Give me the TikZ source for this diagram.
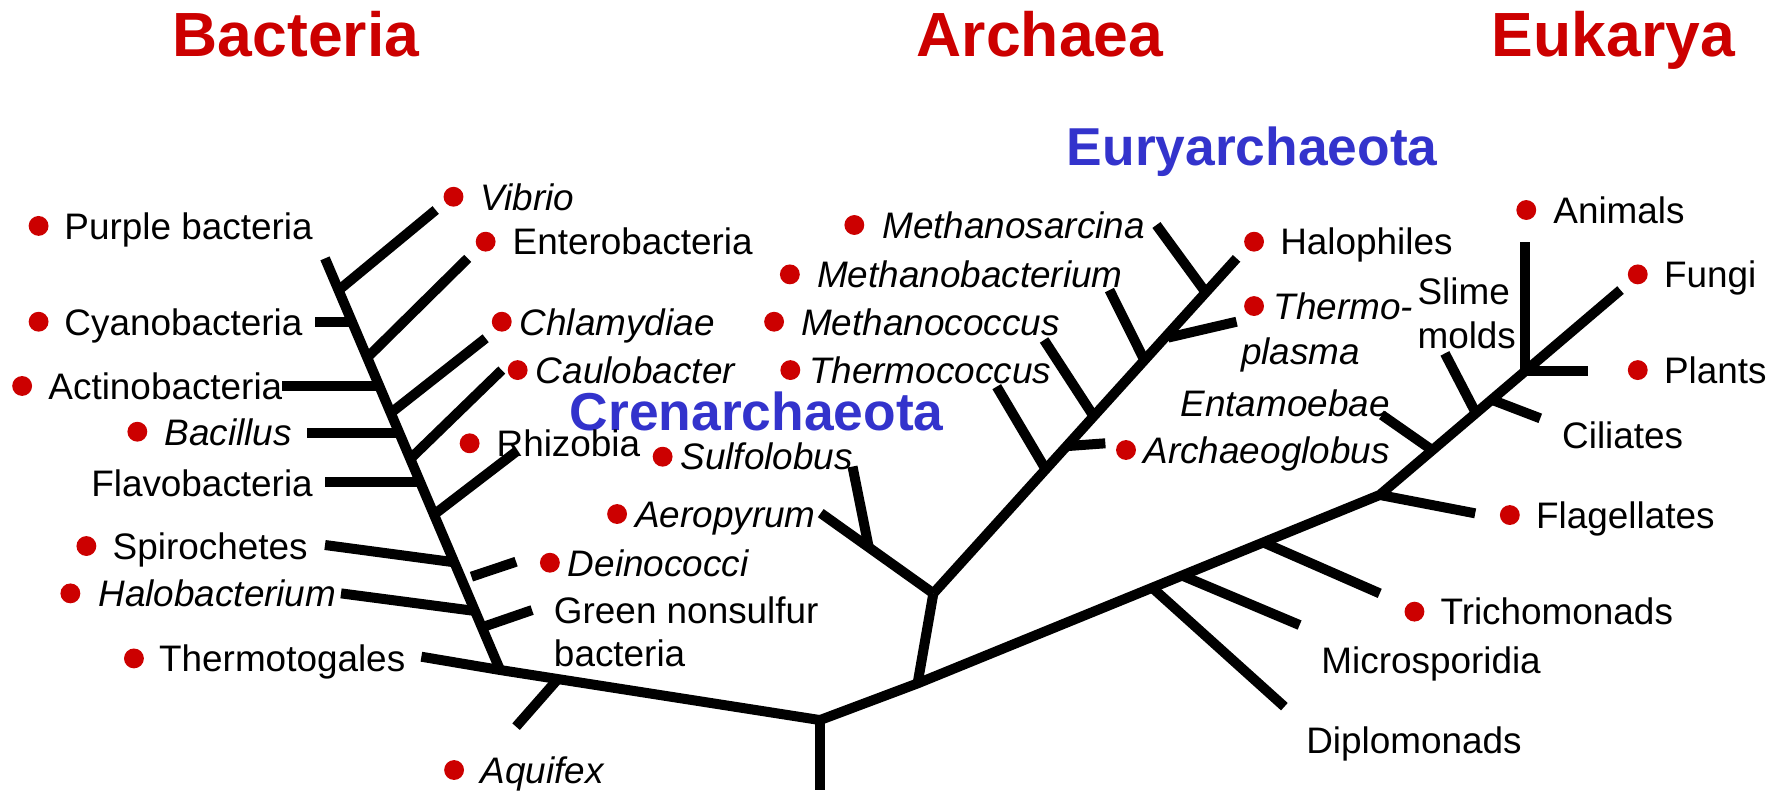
\documentclass[tikz,border=0pt]{standalone}
\usepackage{fontspec}
\setmainfont{Liberation Sans}
\definecolor{domred}{RGB}{204,0,0}
\definecolor{phylblue}{RGB}{51,51,204}

\begin{document}
\begin{tikzpicture}[x=1pt, y=-1pt,
  branch/.style={line width=8.8pt},
  dot/.style={circle, fill=domred, inner sep=0pt, minimum size=17.5pt},
  taxon/.style={anchor=base west, inner sep=0pt, align=left,
    font=\fontsize{32.5}{38.5}\selectfont},
  domname/.style={anchor=base west, inner sep=0pt, text=domred,
    font=\fontsize{55}{60}\selectfont\bfseries},
  phylum/.style={anchor=base west, inner sep=0pt, text=phylblue,
    font=\fontsize{47}{52}\selectfont\bfseries}]
\useasboundingbox (0,0) rectangle (1568,696);

% titres
\node[domname] (bacteria) at (152.1,49.9) {Bacteria};
\node[domname] (archaea) at (807.5,49.9) {Archaea};
\node[domname] (eukarya) at (1314,49.9) {Eukarya};
\node[phylum] (eury) at (939.6,145.4) {Euryarchaeota};
\node[phylum] (cren) at (501.8,378.8) {Crenarchaeota};

% racine
\coordinate (root) at (722.3,634.3);
\coordinate (rootend) at (722.3,696);
\coordinate (bac) at (440.5,590.2);
\coordinate (arc) at (808.3,602);
\draw[branch] (root) -- (rootend);

% bacteria : tronc et branches
\coordinate (bactop) at (286.3,227.6);
\coordinate (thermotoga) at (371.2,578.5);
\coordinate (aqj) at (491.4,598.2);
\draw[branch] (bactop) -- (bac);
\draw[branch] (thermotoga) -- (bac) -- (root);
\draw[branch] (aqj) -- (454.6,640.1);
\draw[branch] (383.8,185) -- (298.2,255.7);   % vibrio
\draw[branch] (277.5,283.4) -- (310,283.4);   % cyano
\draw[branch] (412,227.6) -- (323.5,315);     % entero
\draw[branch] (248.5,340) -- (334.1,340);     % actino
\draw[branch] (427.8,298) -- (344.2,363.8);   % chlamydiae
\draw[branch] (270.5,381.7) -- (351.8,381.7); % bacillus
\draw[branch] (442,326) -- (361.4,404.2);     % caulobacter
\draw[branch] (286.3,425) -- (370.3,425);     % flavo
\draw[branch] (454.6,397.9) -- (382.3,453.3); % rhizobia
\draw[branch] (286.3,480.1) -- (400.1,495.3); % spirochetes
\draw[branch] (415.3,508) -- (454.6,494.8);   % deinococci
\draw[branch] (300.4,522.7) -- (418.4,538.2); % halobacterium
\draw[branch] (424.3,552.7) -- (468.7,537.4); % green nonsulfur

% archaea
\coordinate (arcnode) at (822.2,522.7);
\coordinate (halo) at (1089.3,227.6);
\draw[branch] (arc) -- (arcnode);
\draw[branch] (arcnode) -- (723,452);          % aeropyrum
\draw[branch] (751,411) -- (765.3,482.3);      % sulfolobus
\draw[branch] (arcnode) -- (halo);
\draw[branch] (878,340.6) -- (921.1,413.4);    % thermococcus
\draw[branch] (939.6,393) -- (973.7,390.5);    % archaeoglobus
\draw[branch] (919.7,299.5) -- (963.4,366.7);  % methanococcus
\draw[branch] (977.3,255.5) -- (1008.1,317.3); % methanobacterium
\draw[branch] (1029,297.4) -- (1089.3,283.4);  % thermoplasma
\draw[branch] (1018.7,198.2) -- (1062.1,257.6);% methanosarcina

% eukarya
\coordinate (flag) at (1215.4,436);
\coordinate (fungi) at (1427.5,255.5);
\coordinate (animnode) at (1343.4,327.1);
\draw[branch] (root) -- (arc) -- (flag) -- (fungi);
\draw[branch] (1015,517.7) -- (1131.4,622.5);   % diplomonads
\draw[branch] (1041.3,507) -- (1144.8,550.6);   % microsporidia
\draw[branch] (1112.8,477.8) -- (1215.4,522.7); % trichomonads
\draw[branch] (flag) -- (1299.5,452.2);         % flagellates
\draw[branch] (1261.7,396.6) -- (1217.3,365.6); % entamoebae
\draw[branch] (1300.1,363.9) -- (1272.8,311.3); % slime molds
\draw[branch] (1314,352.1) -- (1356.8,368.5);   % ciliates
\draw[branch] (animnode) -- (1343.4,212.9);     % animals
\draw[branch] (1343.4,327) -- (1398.7,327);     % plants

% noms : bacteria
\node[dot] (d-purple) at (34,199) {};
\node[taxon] (purple) at (56.6,210.7) {Purple bacteria};
\node[dot] (d-vibrio) at (399.5,173.3) {};
\node[taxon] (vibrio) at (423,185) {\itshape Vibrio};
\node[dot] (d-entero) at (427.8,212.9) {};
\node[taxon] (entero) at (451.4,224.6) {Enterobacteria};
\node[dot] (d-cyano) at (34,283.4) {};
\node[taxon] (cyano) at (56.6,295.1) {Cyanobacteria};
\node[dot] (d-chlam) at (442,283.4) {};
\node[taxon] (chlam) at (457.7,295.1) {\itshape Chlamydiae};
\node[dot] (d-actino) at (19.5,340) {};
\node[taxon] (actino) at (42.5,351.7) {Actinobacteria};
\node[dot] (d-caulo) at (456,326) {};
\node[taxon] (caulo) at (471.9,337.7) {\itshape Caulobacter};
\node[dot] (d-bacil) at (121,380.3) {};
\node[taxon] (bacil) at (144.7,392) {\itshape Bacillus};
\node[dot] (d-rhizo) at (413.7,390.5) {};
\node[taxon] (rhizo) at (437.3,402.2) {Rhizobia};
\node[taxon] (flavo) at (80.2,437) {Flavobacteria};
\node[dot] (d-spiro) at (76.1,481) {};
\node[taxon] (spiro) at (99.1,492.7) {Spirochetes};
\node[dot] (d-halob) at (62,522.7) {};
\node[taxon] (halob) at (86.5,534.4) {\itshape Halobacterium};
\node[dot] (d-deino) at (484.4,495.7) {};
\node[taxon] (deino) at (500.1,507.4) {\itshape Deinococci};
\node[taxon] (green) at (487.8,587.5) {Green nonsulfur\\bacteria};
\node[dot] (d-thermot) at (118,580) {};
\node[taxon] (thermot) at (140,591.7) {Thermotogales};
\node[dot] (d-aquif) at (400,678.3) {};
\node[taxon] (aquif) at (423,690) {\itshape Aquifex};

% noms : archaea
\node[dot] (d-sulfo) at (583.7,402.3) {};
\node[taxon] (sulfo) at (599.4,414) {\itshape Sulfolobus};
\node[dot] (d-aero) at (543.6,452.8) {};
\node[taxon] (aero) at (559.3,464.5) {\itshape Aeropyrum};
\node[dot] (d-msarc) at (752.6,198.2) {};
\node[taxon] (msarc) at (777,209.9) {\itshape Methanosarcina};
\node[dot] (d-mbact) at (695.8,241.7) {};
\node[taxon] (mbact) at (719.5,253.4) {\itshape Methanobacterium};
\node[dot] (d-mcocc) at (681.9,283.4) {};
\node[taxon] (mcocc) at (705.6,295.1) {\itshape Methanococcus};
\node[dot] (d-tcocc) at (696.2,326) {};
\node[taxon] (tcocc) at (712.5,337.7) {\itshape Thermococcus};
\node[dot] (d-aglob) at (991.9,396.4) {};
\node[taxon] (aglob) at (1007.2,408.1) {\itshape Archaeoglobus};
\node[dot] (d-halo) at (1104.7,212.9) {};
\node[taxon] (halop) at (1127.6,224.6) {Halophiles};
\node[dot] (d-tplas) at (1104.7,269.6) {};
\node[taxon, font=\fontsize{32.5}{40}\selectfont] (tplas) at (1093.2,321.3)
  {\itshape\hspace*{28.6pt}Thermo-\\\itshape plasma};

% noms : eukarya
\node[dot] (d-anim) at (1344.5,185) {};
\node[taxon] (anim) at (1368.2,196.7) {Animals};
\node[dot] (d-fungi) at (1442.7,241.7) {};
\node[taxon] (fung) at (1465.6,253.4) {Fungi};
\node[dot] (d-plant) at (1442.7,326) {};
\node[taxon] (plant) at (1465.6,337.7) {Plants};
\node[taxon] (slime) at (1248.5,306.8) {Slime\\molds};
\node[taxon] (entam) at (1039.6,367) {\itshape Entamoebae};
\node[taxon] (cilia) at (1375.9,394.9) {Ciliates};
\node[dot] (d-flag) at (1330,453.7) {};
\node[taxon] (flagel) at (1353,465.4) {Flagellates};
\node[dot] (d-trich) at (1246,538.8) {};
\node[taxon] (trich) at (1268.8,550.5) {Trichomonads};
\node[taxon] (micro) at (1163.8,593.1) {Microsporidia};
\node[taxon] (diplo) at (1150.5,663.6) {Diplomonads};
\end{tikzpicture}
\end{document}
